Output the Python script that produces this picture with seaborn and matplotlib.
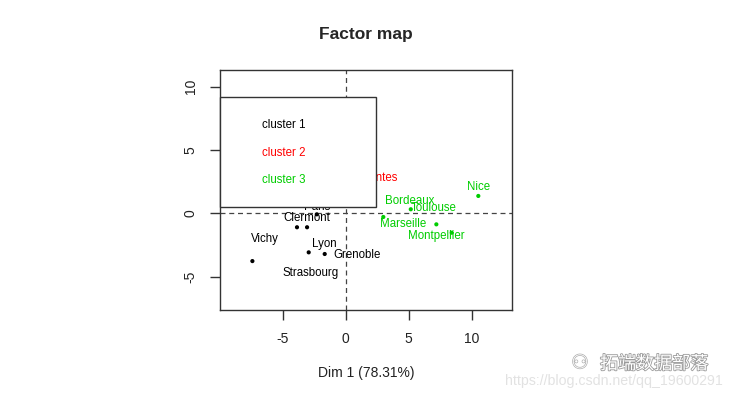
import matplotlib
matplotlib.use("Agg")
import matplotlib.pyplot as plt
import matplotlib.patheffects as pe
from matplotlib.patches import Rectangle
import seaborn as sns
import pandas as pd

# ---- data ----
cities = ["Vichy", "Clermont", "Strasbourg", "Paris", "Lyon", "Grenoble",
          "Nantes",
          "Nice", "Toulouse", "Marseille", "Bordeaux", "Montpellier"]
dim1 = [-7.41, -3.87, -3.07, -2.30, -2.94, -1.67,
        2.10,
        10.52, 5.16, 2.98, 7.19, 8.41]
dim2 = [-3.77, -1.10, -1.10, -0.08, -3.08, -3.21,
        2.10,
        1.37, 0.32, -0.29, -0.87, -1.53]
cluster = ["cluster 1"] * 6 + ["cluster 2"] + ["cluster 3"] * 5
label_x = [-6.40, -3.07, -2.75, -2.30, -1.67, 0.87,
           2.62,
           10.52, 6.95, 4.57, 5.10, 7.17]
label_y = [-2.03, -0.37, -4.69, 0.52, -2.45, -3.26,
           2.81,
           2.08, 0.39, -0.87, 0.97, -1.77]
clusters = ["cluster 1", "cluster 2", "cluster 3"]
colors = ["#000000", "#FF0000", "#00CD00"]
x_ticks = [-5, 0, 5, 10]
y_ticks = [-5, 0, 5, 10]
title = "Factor map"
xlabel = "Dim 1 (78.31%)"

df = pd.DataFrame({"city": cities, "Dim1": dim1, "Dim2": dim2,
                   "cluster": cluster, "lx": label_x, "ly": label_y})
palette = dict(zip(clusters, colors))

sns.set_style("white")
plt.rcParams["font.family"] = ["Liberation Sans", "DejaVu Sans"]

fig = plt.figure(figsize=(7.32, 3.98), dpi=100)
ax = fig.add_axes([220 / 732, 88 / 398, 291.7 / 732, 240 / 398])

ax.axhline(0, color="#444444", lw=0.9, ls=(0, (4, 3)), zorder=1)
ax.axvline(0, color="#444444", lw=0.9, ls=(0, (4, 3)), zorder=1)

sns.scatterplot(data=df, x="Dim1", y="Dim2", hue="cluster", palette=palette,
                s=9, edgecolor="none", legend=False, ax=ax, zorder=2)

for _, r in df.iterrows():
    ax.text(r.lx, r.ly, r.city, color=palette[r.cluster], fontsize=8.3,
            ha="center", va="center", zorder=3)

ax.set_xlim(-9.98, 13.17)
ax.set_ylim(-7.63, 11.31)
ax.set_xticks(x_ticks)
ax.set_yticks(y_ticks)
ax.set_xticklabels([str(v) for v in x_ticks])
ax.set_yticklabels([str(v) for v in y_ticks], rotation=90, va="center")
ax.tick_params(axis="both", direction="out", length=7, width=1,
               color="#333333", labelsize=10, labelcolor="#222222", pad=9,
               bottom=True, left=True)
for s in ax.spines.values():
    s.set_color("#333333")
    s.set_linewidth(1)
ax.set_xlabel(xlabel, fontsize=10, color="#222222", labelpad=14)
ax.set_ylabel("")
ax.set_title(title, fontsize=12.5, fontweight="bold", pad=22)

# legend box (R style, drawn over points)
ax.add_patch(Rectangle((0, 0.429), 0.535, 0.460, transform=ax.transAxes,
                       facecolor="white", edgecolor="#333333", lw=1,
                       zorder=5, clip_on=False))
for i, (c, col) in enumerate(zip(clusters, colors)):
    ax.text(0.143, 0.770 - i * 0.115, c, color=col, fontsize=8.3,
            transform=ax.transAxes, ha="left", va="center", zorder=6)

# watermark
fig.text(654 / 732, 1 - 364 / 398, "拓端数据部落", fontsize=13,
         family=["Noto Sans CJK SC", "DejaVu Sans"], color="white",
         ha="center", va="center",
         path_effects=[pe.withStroke(linewidth=1.2, foreground="#9a9a9a")])
fig.text(580 / 732, 1 - 364 / 398, "⚇", fontsize=14, color="white",
         ha="center", va="center",
         path_effects=[pe.withStroke(linewidth=1.0, foreground="#b0b0b0")])
fig.text(723 / 732, 1 - 381 / 398, "https://blog.csdn.net/qq_19600291",
         fontsize=10.2, color="#e2e2e2", ha="right", va="center")

fig.savefig("out.png", dpi=100)
